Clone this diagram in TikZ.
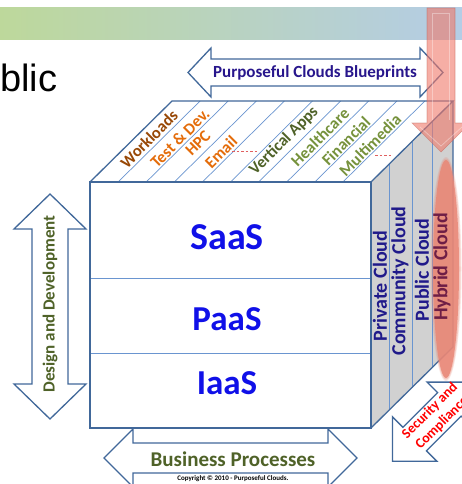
\documentclass[tikz,border=0pt]{standalone}
\usepackage{fontspec}
\setmainfont{Carlito}
\newfontfamily\arialfont{Liberation Sans}
\usetikzlibrary{calc}

\definecolor{edgeblue}{RGB}{65,104,154}
\definecolor{thinblue}{RGB}{106,149,208}
\definecolor{facegrey}{RGB}{209,209,209}
\definecolor{bannerL}{RGB}{189,216,155}
\definecolor{bannerR}{RGB}{180,205,230}
\definecolor{brownlbl}{RGB}{152,72,6}
\definecolor{orangelbl}{RGB}{228,108,10}
\definecolor{olivedark}{RGB}{79,98,40}
\definecolor{olivelight}{RGB}{118,146,60}
\definecolor{navylbl}{RGB}{32,26,138}
\definecolor{purplenavy}{RGB}{40,22,140}
\definecolor{layerblue}{RGB}{16,16,232}
\definecolor{hybridtxt}{RGB}{110,30,70}
\definecolor{salmon}{RGB}{240,120,105}
\definecolor{ellfill}{RGB}{233,135,118}
\definecolor{dashred}{RGB}{224,96,96}

\tikzset{
  arrowline/.style={draw=edgeblue, line width=1.3pt, fill=white, line join=miter},
  cubeedge/.style={draw=edgeblue, line width=1.3pt, line join=miter},
  innerline/.style={draw=thinblue, line width=0.7pt},
  toplbl/.style={font=\bfseries\fontsize{16.5}{19}\selectfont, inner sep=0pt, rotate=45},
  sidelbl/.style={font=\bfseries\fontsize{20}{24}\selectfont, inner sep=0pt, rotate=90, text=navylbl},
  layerlbl/.style={font=\bfseries\fontsize{#1}{#1}\selectfont, inner sep=0pt, text=layerblue},
  dotted red/.style={draw=dashred, line width=0.8pt, dash pattern=on 2.5pt off 2pt},
  pics/dblarrow/.style args={#1/#2/#3/#4}{code={
    % #1 half length, #2 head length, #3 head half width, #4 shaft half width
    \draw[arrowline] (-#1,0) -- (-#1+#2,-#3) -- (-#1+#2,-#4) -- (#1-#2,-#4)
      -- (#1-#2,-#3) -- (#1,0) -- (#1-#2,#3) -- (#1-#2,#4) -- (-#1+#2,#4)
      -- (-#1+#2,#3) -- cycle;
  }}
}

\begin{document}
\begin{tikzpicture}[x=1pt,y=-1pt]
\useasboundingbox (0,0) rectangle (462,484);
\clip (0,0) rectangle (462,484);
\fill[white] (0,0) rectangle (462,484);

% title band and clipped heading
\shade[left color=bannerL, right color=bannerR] (0,8) rectangle (462,40);
\node[anchor=base west, inner sep=0pt, font=\arialfont\fontsize{38}{38}\selectfont] (heading) at (0,92) {blic};

% blueprint arrow above the cube
\pic at (315.5,72.5) {dblarrow=127.5/23/24.5/13.5};
\node[font=\bfseries\fontsize{17}{20}\selectfont, text=purplenavy, inner sep=0pt] (blueprints) at (315,73) {Purposeful Clouds Blueprints};

% cube corners
\coordinate (fTL) at (90,182);
\coordinate (fTR) at (371,182);
\coordinate (fBR) at (371,428);
\coordinate (fBL) at (90,428);
\coordinate (bTL) at (172,101);
\coordinate (bTR) at (453,101);
\coordinate (bBR) at (453,347);

% faces
\fill[white] (fTL) rectangle (fBR);
\fill[white] (fTL) -- (bTL) -- (bTR) -- (fTR) -- cycle;
\fill[facegrey] (fTR) -- (bTR) -- (bBR) -- (fBR) -- cycle;

% strips on the top face
\foreach \i in {1,...,9} {
  \draw[innerline] ({90+28.1*\i},182) -- ({172+28.1*\i},101);
}
% deployment slices on the side face
\foreach \xx in {389,412,432} {
  \draw[innerline] (\xx,{182-(\xx-371)*81/82}) -- (\xx,{428-(\xx-371)*81/82});
}
% service layers on the front face
\draw[innerline] (90,278) -- (371,278);
\draw[innerline] (90,353) -- (371,353);

% cube outline
\draw[cubeedge] (fTL) rectangle (fBR);
\draw[cubeedge] (fTL) -- (bTL) -- (bTR) -- (fTR);
\draw[cubeedge] (bTR) -- (bBR) -- (fBR);

% workload labels
\node[toplbl, text=brownlbl] (wl) at (149,139) {Workloads};
\node[toplbl, text=orangelbl] (td) at (180,138) {Test \& Dev.};
\node[toplbl, text=orangelbl] (hpc) at (198,143) {HPC};
\node[toplbl, text=orangelbl] (em) at (221,152) {Email};
\node[toplbl, text=olivedark] (va) at (284,141) {Vertical Apps};
\node[toplbl, text=olivelight] (hc) at (320,137) {Healthcare};
\node[toplbl, text=olivelight] (fi) at (346,141) {Financial};
\node[toplbl, text=olivelight] (mm) at (370,145) {Multimedia};
\coordinate (dashA1) at (232,151);
\coordinate (dashA2) at (257,151);
\coordinate (dashB1) at (375,155);
\coordinate (dashB2) at (392,155);
\draw[dotted red] (dashA1) -- (dashA2);
\draw[dotted red] (dashB1) -- (dashB2);

% service layers
\node[layerlbl=38] (saas) at (227,237) {SaaS};
\node[layerlbl=35] (paas) at (227,319) {PaaS};
\node[layerlbl=35] (iaas) at (227,383) {IaaS};

% deployment models
\node[sidelbl] (priv) at (380,286) {Private Cloud};
\node[sidelbl] (comm) at (400,281) {Community Cloud};
\node[sidelbl] (pub) at (422,270) {Public Cloud};
\fill[ellfill, opacity=0.2] (446,269) ellipse [x radius=15.5pt, y radius=112pt];
\fill[ellfill, opacity=0.3] (446,269) ellipse [x radius=14.5pt, y radius=110.5pt];
\fill[ellfill, opacity=0.85] (446,269) ellipse [x radius=13pt, y radius=109pt];
\node[sidelbl, text=hybridtxt] (hyb) at (442,267) {Hybrid Cloud};

% translucent downward arrow
\path[fill=salmon, fill opacity=0.6, draw=salmon!80!black, draw opacity=0.5, line width=0.6pt]
  (427,8) -- (455,8) -- (455,123) -- (470,123) -- (441,152) -- (412,123) -- (427,123) -- cycle;
\draw[white, opacity=0.35, line width=0.8pt] (432,13) -- (432,120) (449,13) -- (449,120) (432,13) -- (449,13);
\draw[white, opacity=0.35, line width=0.8pt] (420,127) -- (441,146) -- (462,127);

% side arrows
\pic[rotate=90] at (50,306.5) {dblarrow=112.5/35/36/18};
\node[font=\bfseries\fontsize{17}{20}\selectfont, text=olivedark, rotate=90, inner sep=0pt] (design) at (50,304) {Design and Development};

\pic at (230.5,458) {dblarrow=126.5/29/29/15};
\node[font=\bfseries\fontsize{21}{24}\selectfont, text=olivedark, inner sep=0pt] (business) at (233,459) {Business Processes};

\pic[rotate=45] at (432,421.7) {dblarrow=56/31.5/31.5/16.6};
\node[font=\bfseries\fontsize{14}{17}\selectfont, text=red, rotate=45, align=center, inner sep=0pt] (security) at (436,417) {Security and\\Compliance};

% footer
\node[font=\bfseries\fontsize{7}{8}\selectfont, inner sep=0pt] (copy) at (233,479) {Copyright © 2010 - Purposeful Clouds.};
\end{tikzpicture}
\end{document}
